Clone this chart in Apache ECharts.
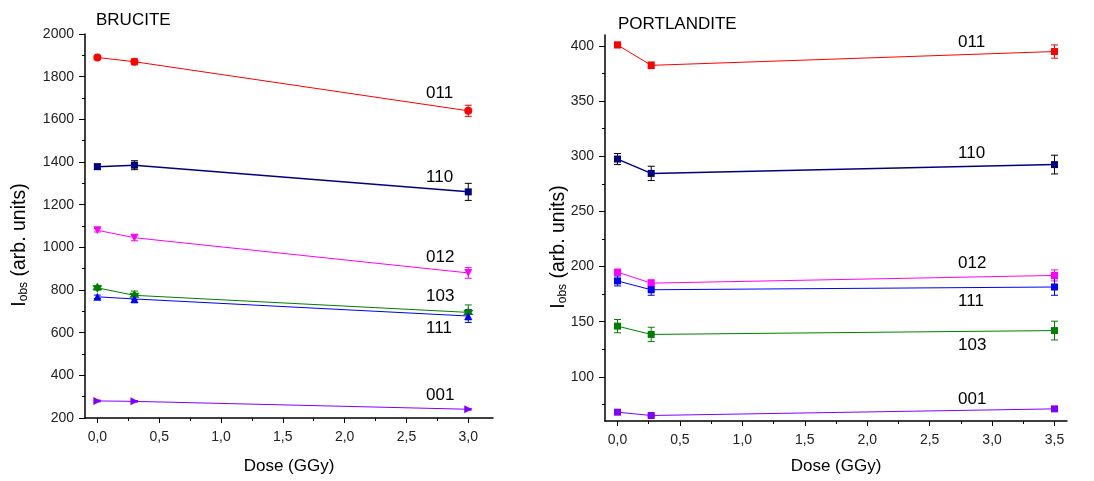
<!DOCTYPE html>
<html>
<head>
<meta charset="utf-8">
<script src="https://cdn.jsdelivr.net/npm/echarts@6/dist/echarts.min.js"></script>
<style>
html,body{margin:0;padding:0;background:#fff;}
#c{width:1094px;height:481px;}
</style>
</head>
<body>
<div id="c"></div>
<script>
// ---------- DATA ----------
const bruciteDose = [0, 0.3, 3.0];
const portlanditeDose = [0, 0.27, 3.5];
const reflections = ['011', '110', '012', '103', '111', '001'];

// BRUCITE values and errors
const b011 = [1890, 1870, 1640];   const b011Err = [8, 14, 26];
const b110 = [1378, 1385, 1260];   const b110Err = [12, 21, 40];
const b012 = [1080, 1045, 880];    const b012Err = [8, 14, 25];
const b103 = [810, 775, 695];      const b103Err = [10, 20, 35];
const b111 = [768, 758, 678];      const b111Err = [8, 18, 30];
const b001 = [280, 278, 241];      const b001Err = [4, 4, 4];

// PORTLANDITE values and errors
const p011 = [401, 382.5, 395];    const p011Err = [2.5, 3, 6];
const p110 = [297.5, 284.5, 292.5];const p110Err = [5, 6.5, 8.5];
const p012 = [195, 185, 192];      const p012Err = [2.5, 3, 5];
const p111 = [187, 179, 181.5];    const p111Err = [4.5, 5, 7.5];
const p103 = [146, 138.5, 142];    const p103Err = [6, 6.5, 8.5];
const p001 = [68, 65, 71];         const p001Err = [1, 1, 1];

// tick labels
const bruciteXTicks = [0, 0.5, 1.0, 1.5, 2.0, 2.5, 3.0];
const bruciteXMinor = [0.25, 0.75, 1.25, 1.75, 2.25, 2.75];
const portXTicks = [0, 0.5, 1.0, 1.5, 2.0, 2.5, 3.0, 3.5];
const portXMinor = [0.25, 0.75, 1.25, 1.75, 2.25, 2.75, 3.25];
const bruciteYMinor = [300, 500, 700, 900, 1100, 1300, 1500, 1700, 1900];
const portYTicks = [100, 150, 200, 250, 300, 350, 400];
const portYMinor = [75, 125, 175, 225, 275, 325, 375];

// ---------- STYLE ----------
const FONT = '"Liberation Sans", Arial, sans-serif';
const colors = {
  '011': '#ff0000', '110': '#000080', '012': '#ff00ff',
  '103': '#008000', '111': '#0000ff', '001': '#8000ff'
};
const errColors = {
  '011': '#ff0000', '110': '#000000', '012': '#ff00ff',
  '103': '#008000', '111': '#0000ff', '001': '#8000ff'
};
const starPath = 'path://M0,-10 L2.9,-5 L8.66,-5 L5.8,0 L8.66,5 L2.9,5 L0,10 L-2.9,5 L-8.66,5 L-5.8,0 L-8.66,-5 L-2.9,-5 Z';
const bruciteSymbols = {
  '011': ['circle', 0, 8], '110': ['rect', 0, 7], '012': ['triangle', 180, 8],
  '103': [starPath, 0, 10], '111': ['triangle', 0, 8], '001': ['triangle', -90, 8]
};

function fmt(v) { return v.toFixed(1).replace('.', ','); }
function fmtInt(v) { return String(v); }

function lineSeries(name, xs, ys, xi, yi, sym) {
  return {
    type: 'line', name: name, xAxisIndex: xi, yAxisIndex: yi,
    data: xs.map((x, i) => [x, ys[i]]),
    symbol: sym[0], symbolRotate: sym[1], symbolSize: sym[2],
    lineStyle: { color: colors[name], width: name === '110' ? 1.5 : 1 },
    itemStyle: { color: colors[name] },
    z: 3, animation: false
  };
}
function errSeries(name, xs, ys, es, xi, yi) {
  return {
    type: 'custom', xAxisIndex: xi, yAxisIndex: yi,
    data: xs.map((x, i) => [x, ys[i], es[i]]),
    renderItem: function (params, api) {
      const x = api.value(0), y = api.value(1), e = api.value(2);
      const top = api.coord([x, y + e]);
      const bot = api.coord([x, y - e]);
      const w = 3.5;
      const st = { stroke: errColors[name], lineWidth: 1 };
      return {
        type: 'group', children: [
          { type: 'line', shape: { x1: top[0], y1: top[1], x2: bot[0], y2: bot[1] }, style: st },
          { type: 'line', shape: { x1: top[0] - w, y1: top[1], x2: top[0] + w, y2: top[1] }, style: st },
          { type: 'line', shape: { x1: bot[0] - w, y1: bot[1], x2: bot[0] + w, y2: bot[1] }, style: st }
        ]
      };
    },
    z: 2, animation: false, silent: true
  };
}

const axisLine = { show: true, onZero: false, lineStyle: { color: '#000', width: 1.5 } };
const noLine = { show: false, onZero: false };
const labelStyle = { color: '#222', fontSize: 14, fontFamily: FONT };
const yName = 'I{sub|obs} (arb. units)';
const yNameStyle = {
  fontSize: 19.5, fontFamily: FONT, color: '#000', padding: [0, 38, 0, 0],
  rich: { sub: { fontSize: 12, fontFamily: FONT, verticalAlign: 'bottom', padding: [8, 0, 0, 0] } }
};
const xNameStyle = { fontSize: 17, fontFamily: FONT, color: '#000' };

const bData = [b011, b110, b012, b103, b111, b001];
const bErr = [b011Err, b110Err, b012Err, b103Err, b111Err, b001Err];
const pData = [p011, p110, p012, p111, p103, p001];
const pErr = [p011Err, p110Err, p012Err, p111Err, p103Err, p001Err];
const pNames = ['011', '110', '012', '111', '103', '001'];

const series = [];
reflections.forEach((n, i) => {
  series.push(errSeries(n, bruciteDose, bData[i], bErr[i], 0, 0));
  series.push(lineSeries(n, bruciteDose, bData[i], 0, 0, bruciteSymbols[n]));
});
pNames.forEach((n, i) => {
  series.push(errSeries(n, portlanditeDose, pData[i], pErr[i], 2, 2));
  series.push(lineSeries(n, portlanditeDose, pData[i], 2, 2, ['rect', 0, 7]));
});

function txt(s, x, y, size) {
  return { type: 'text', left: x, top: y, style: { text: s, fontSize: size || 17, fontFamily: FONT, fill: '#000' } };
}

const option = {
  backgroundColor: '#fff',
  animation: false,
  grid: [
    { left: 85, top: 34, width: 408, height: 384 },
    { left: 605, top: 35, width: 462, height: 386 }
  ],
  xAxis: [
    { gridIndex: 0, type: 'value', min: -0.1, max: 3.2, position: 'bottom',
      axisLine: axisLine, splitLine: { show: false },
      axisTick: { show: true, length: 5, customValues: bruciteXTicks, lineStyle: { color: '#000' } },
      axisLabel: { customValues: bruciteXTicks, formatter: fmt, margin: 12, ...labelStyle },
      name: 'Dose (GGy)', nameLocation: 'middle', nameGap: 40, nameTextStyle: xNameStyle },
    { gridIndex: 0, type: 'value', min: -0.1, max: 3.2, position: 'bottom',
      axisLine: noLine, splitLine: { show: false },
      axisTick: { show: true, length: 3, customValues: bruciteXMinor, lineStyle: { color: '#000' } },
      axisLabel: { show: false } },
    { gridIndex: 1, type: 'value', min: -0.1, max: 3.6, position: 'bottom',
      axisLine: axisLine, splitLine: { show: false },
      axisTick: { show: true, length: 5, customValues: portXTicks, lineStyle: { color: '#000' } },
      axisLabel: { customValues: portXTicks, formatter: fmt, margin: 12, ...labelStyle },
      name: 'Dose (GGy)', nameLocation: 'middle', nameGap: 37, nameTextStyle: xNameStyle },
    { gridIndex: 1, type: 'value', min: -0.1, max: 3.6, position: 'bottom',
      axisLine: noLine, splitLine: { show: false },
      axisTick: { show: true, length: 3, customValues: portXMinor, lineStyle: { color: '#000' } },
      axisLabel: { show: false } }
  ],
  yAxis: [
    { gridIndex: 0, type: 'value', min: 200, max: 2000, interval: 200, position: 'left',
      axisLine: axisLine, splitLine: { show: false },
      axisTick: { show: true, length: 6, lineStyle: { color: '#000' } },
      axisLabel: { margin: 11, formatter: fmtInt, ...labelStyle },
      name: yName, nameLocation: 'middle', nameGap: 55, nameRotate: 90, nameMoveOverlap: false,
      nameTextStyle: yNameStyle },
    { gridIndex: 0, type: 'value', min: 200, max: 2000, position: 'left',
      axisLine: noLine, splitLine: { show: false },
      axisTick: { show: true, length: 3, customValues: bruciteYMinor, lineStyle: { color: '#000' } },
      axisLabel: { show: false } },
    { gridIndex: 1, type: 'value', min: 60, max: 410, position: 'left',
      axisLine: axisLine, splitLine: { show: false },
      axisTick: { show: true, length: 6, customValues: portYTicks, lineStyle: { color: '#000' } },
      axisLabel: { customValues: portYTicks, formatter: fmtInt, margin: 11, ...labelStyle },
      name: yName, nameLocation: 'middle', nameGap: 36, nameRotate: 90, nameMoveOverlap: false,
      nameTextStyle: yNameStyle },
    { gridIndex: 1, type: 'value', min: 60, max: 410, position: 'left',
      axisLine: noLine, splitLine: { show: false },
      axisTick: { show: true, length: 3, customValues: portYMinor, lineStyle: { color: '#000' } },
      axisLabel: { show: false } }
  ],
  graphic: [
    txt('BRUCITE', 96, 12, 17),
    txt('PORTLANDITE', 618, 16, 17),
    txt('011', 426, 85), txt('110', 426, 169), txt('012', 426, 249),
    txt('103', 426, 288), txt('111', 426, 320), txt('001', 426, 387),
    txt('011', 958, 34), txt('110', 958, 145), txt('012', 958, 255),
    txt('111', 958, 293), txt('103', 958, 337), txt('001', 958, 391)
  ],
  series: series
};

const chart = echarts.init(document.getElementById('c'), null, { renderer: 'canvas' });
chart.setOption(option);
</script>
</body>
</html>
